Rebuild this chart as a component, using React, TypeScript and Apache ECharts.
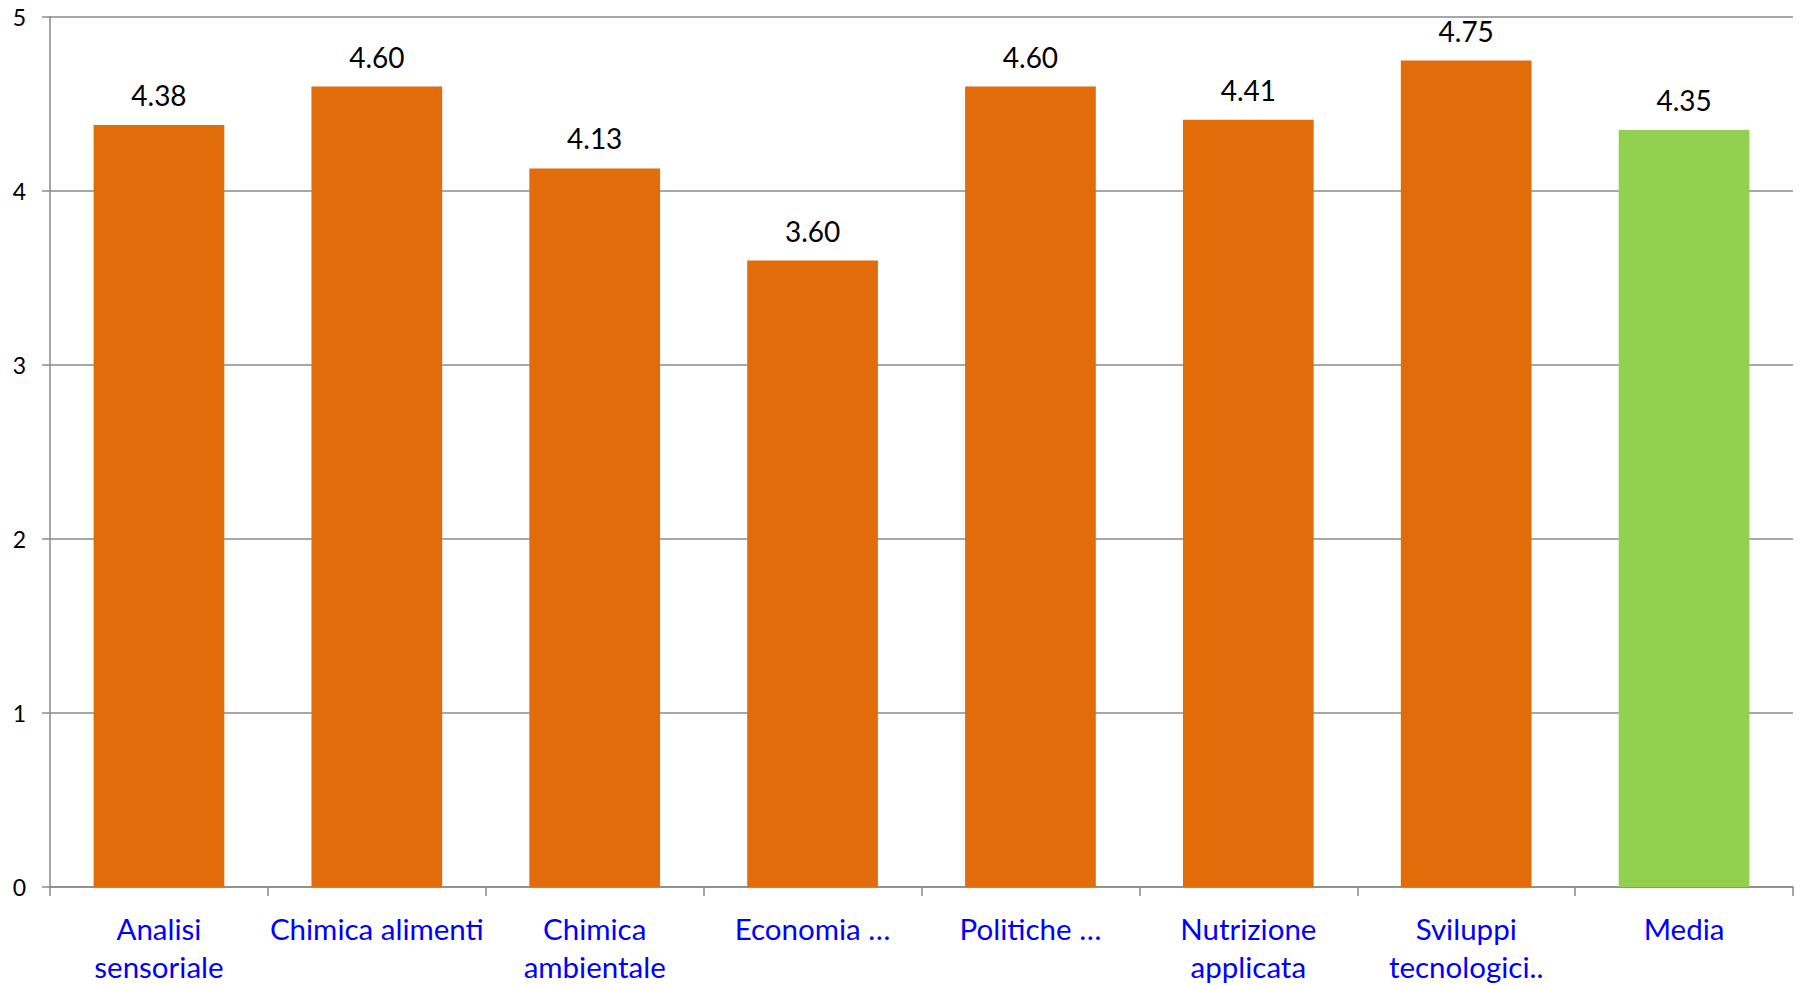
import React, { useEffect, useRef } from "react";
import * as echarts from "echarts";

const categories = [
  "Analisi\nsensoriale",
  "Chimica alimenti",
  "Chimica\nambientale",
  "Economia …",
  "Politiche …",
  "Nutrizione\napplicata",
  "Sviluppi\ntecnologici..",
  "Media",
];
const values = [4.38, 4.6, 4.13, 3.6, 4.6, 4.41, 4.75, 4.35];
const highlightIndex = 7;
const yTicks = { min: 0, max: 5, interval: 1 };

const ORANGE = "#E36C0A";
const GREEN = "#92D050";
const GRID = "#8a8a8a";
const FONT = "Lato, 'Open Sans', sans-serif";

export default function App() {
  const ref = useRef<HTMLDivElement>(null);
  useEffect(() => {
    document.body.style.margin = "0";
    if (!ref.current) return;
    const chart = echarts.init(ref.current, null, { renderer: "svg" });
    chart.setOption({
      animation: false,
      backgroundColor: "#ffffff",
      grid: { left: 50, right: 12, top: 17, bottom: 97, containLabel: false },
      xAxis: {
        type: "category",
        data: categories,
        axisLine: { show: true, lineStyle: { color: GRID, width: 1.5 } },
        axisTick: { show: true, length: 9, lineStyle: { color: GRID, width: 1.5 } },
        axisLabel: {
          color: "#0000FF",
          fontFamily: FONT,
          fontSize: 29.5,
          lineHeight: 38,
          margin: 22,
          interval: 0,
          align: "center",
        },
      },
      yAxis: {
        type: "value",
        min: yTicks.min,
        max: yTicks.max,
        interval: yTicks.interval,
        axisLine: { show: true, lineStyle: { color: GRID, width: 1.5 } },
        axisTick: { show: true, length: 8, lineStyle: { color: GRID, width: 1.5 } },
        splitLine: { show: true, lineStyle: { color: GRID, width: 1.5 } },
        axisLabel: {
          color: "#000000",
          fontFamily: FONT,
          fontSize: 23,
          margin: 24,
        },
      },
      series: [
        {
          type: "bar",
          barWidth: "60%",
          data: values.map((v, i) => ({
            value: v,
            itemStyle: { color: i === highlightIndex ? GREEN : ORANGE },
          })),
          label: {
            show: true,
            position: "top",
            distance: 16,
            color: "#000000",
            fontFamily: FONT,
            fontSize: 28,
            lineHeight: 28,
            formatter: (p: any) => Number(p.value).toFixed(2),
          },
        },
      ],
    });
    return () => chart.dispose();
  }, []);
  return (
    <div
      ref={ref}
      style={{ position: "absolute", left: 0, top: 0, width: 1805, height: 985 }}
    />
  );
}
